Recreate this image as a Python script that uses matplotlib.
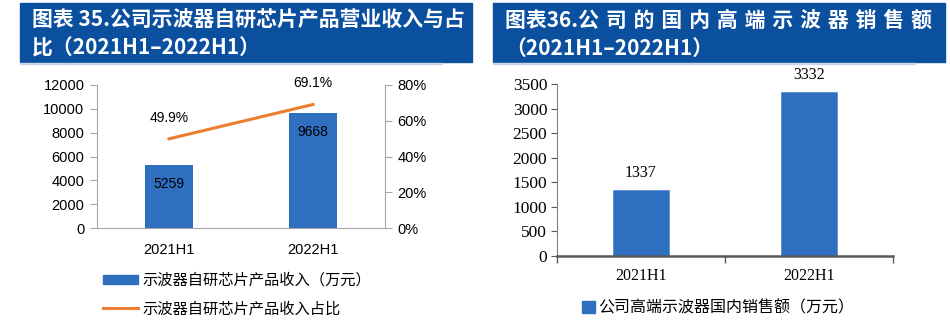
import matplotlib
matplotlib.use("Agg")
import matplotlib.pyplot as plt
from matplotlib.patches import Rectangle, Patch
from matplotlib.lines import Line2D
from matplotlib.ticker import FuncFormatter

# data
periods = ["2021H1", "2022H1"]
chip_revenue = [5259, 9668]          # 万元
chip_share = [0.499, 0.691]
domestic_sales = [1337, 3332]        # 万元

title_left = ["图表 35.公司示波器自研芯片产品营业收入与占", "比（2021H1–2022H1）"]
title_right = ["图表36.公\u2004司\u2004的\u2004国\u2004内\u2004高\u2004端\u2004示\u2004波\u2004器\u2004销\u2004售\u2004额",
               "（2021H1–2022H1）"]
legend_left = ["示波器自研芯片产品收入（万元）", "示波器自研芯片产品收入占比"]
legend_right = "公司高端示波器国内销售额（万元）"

W, H = 950, 325
BLUE = "#2F6FC0"
ORANGE = "#ED7D31"
BANNER = "#0B4F9F"
GRID = "#A6A6A6"

cjk = ["Noto Sans CJK SC", "DejaVu Sans"]
sans = ["Liberation Sans", "Noto Sans CJK SC"]
serif = ["Liberation Serif", "Noto Sans CJK SC"]

fig = plt.figure(figsize=(W / 100, H / 100), dpi=100)


def fx(px):
    return px / W


def fy(py):
    return 1 - py / H


# title banners
for (x0, x1), lines in [((20, 472), title_left), ((493, 945), title_right)]:
    fig.patches.append(Rectangle((fx(x0), fy(62)), fx(x1 - x0), 59 / H,
                                 transform=fig.transFigure, color=BANNER, zorder=0))
    fig.patches.append(Rectangle((fx(x0), fy(64)), fx(x1 - x0 - 30), 1.5 / H,
                                 transform=fig.transFigure, color="#C9D6E8", zorder=0))
    fig.text(fx(x0 + 12), fy(20), lines[0], color="white", fontsize=15,
             family=cjk, weight="bold", va="center", ha="left")
    fig.text(fx(x0 + 12), fy(48), lines[1], color="white", fontsize=15,
             family=cjk, weight="bold", va="center", ha="left")

# ---- left chart
ax = fig.add_axes([fx(97), fy(228), fx(385 - 97), (228 - 85) / H])
xs = range(len(periods))
ax.bar(xs, chip_revenue, width=0.33, color=BLUE, zorder=1)
ax.set_xlim(-0.5, 1.5)
ax.set_ylim(0, 12000)
ax.set_yticks(range(0, 12001, 2000))
ax.set_xticks(list(xs))
ax.set_xticklabels(periods, family=sans, fontsize=10.5)
ax.tick_params(axis="x", length=0, pad=11)
ax.tick_params(axis="y", length=5, color=GRID, labelsize=10.5, pad=4)
for lab in ax.get_yticklabels():
    lab.set_family(sans)
for s in ["top", "right"]:
    ax.spines[s].set_visible(False)
for s in ["left", "bottom"]:
    ax.spines[s].set_color(GRID)
for i, v in enumerate(chip_revenue):
    ax.annotate(str(v), xy=(i, v), xytext=(0, -19), textcoords="offset pixels",
                ha="center", va="center", fontsize=10, family=sans)

ax2 = ax.twinx()
ax2.plot(list(xs), chip_share, color=ORANGE, lw=2.2)
ax2.set_ylim(0, 0.8)
ax2.set_yticks([0, 0.2, 0.4, 0.6, 0.8])
ax2.yaxis.set_major_formatter(FuncFormatter(lambda v, p: f"{v * 100:.0f}%"))
ax2.tick_params(axis="y", length=5, color=GRID, labelsize=10.5, pad=4)
for lab in ax2.get_yticklabels():
    lab.set_family(sans)
for s in ["top", "left", "bottom"]:
    ax2.spines[s].set_visible(False)
ax2.spines["right"].set_color(GRID)
for i, v in enumerate(chip_share):
    ax2.annotate(f"{v * 100:.1f}%", xy=(i, v), xytext=(0, 21), textcoords="offset pixels",
                 ha="center", va="center", fontsize=10, family=sans)

fig.legend(handles=[Patch(color=BLUE, label=legend_left[0]),
                    Line2D([], [], color=ORANGE, lw=2.2, label=legend_left[1])],
           loc="upper left", bbox_to_anchor=(fx(103), fy(272)), frameon=False,
           prop={"family": cjk, "size": 11}, handlelength=2.3, handleheight=0.6,
           handletextpad=0.3, labelspacing=0.75, borderpad=0, borderaxespad=0)

# ---- right chart
bx = fig.add_axes([fx(557), fy(256), fx(893 - 557), (256 - 84) / H])
bx.bar(xs, domestic_sales, width=0.33, color=BLUE, edgecolor="#5B8ED0", lw=0.6, zorder=1)
bx.set_xlim(-0.5, 1.5)
bx.set_ylim(0, 3500)
bx.set_yticks(range(0, 3501, 500))
bx.set_xticks(list(xs))
bx.set_xticklabels(periods, family=serif, fontsize=11.5)
bx.set_xticks([-0.5, 0.5, 1.5], minor=True)
bx.tick_params(axis="x", which="major", length=0, pad=9)
bx.tick_params(axis="x", which="minor", length=5, color="#595959", width=1)
bx.tick_params(axis="y", length=4, color="#595959", labelsize=12.5, pad=3)
for lab in bx.get_yticklabels():
    lab.set_family(serif)
for s in ["top", "right"]:
    bx.spines[s].set_visible(False)
bx.spines["left"].set_color("#808080")
bx.spines["bottom"].set_color("#595959")
bx.spines["bottom"].set_linewidth(1.8)
for i, v in enumerate(domestic_sales):
    bx.annotate(str(v), xy=(i, v), xytext=(0, 17), textcoords="offset pixels",
                ha="center", va="center", fontsize=11.5, family=serif)

fig.legend(handles=[Patch(color=BLUE, label=legend_right)],
           loc="center left", bbox_to_anchor=(fx(582), fy(308)), frameon=False,
           prop={"family": cjk, "size": 11.5}, handlelength=0.8, handleheight=0.8,
           handletextpad=0.2, borderpad=0, borderaxespad=0)

fig.savefig("out.png", dpi=100)
